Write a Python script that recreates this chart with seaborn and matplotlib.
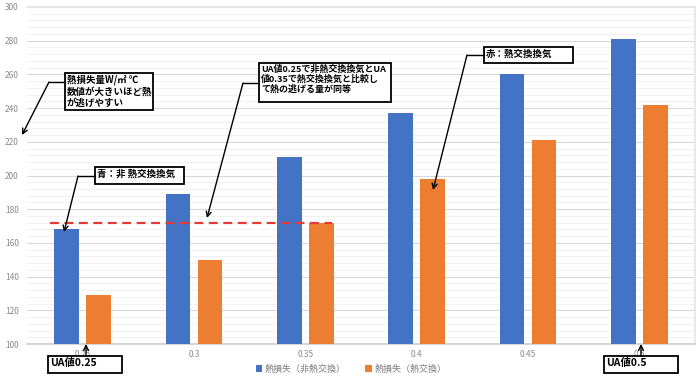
import seaborn as sns
import pandas as pd
import matplotlib.pyplot as plt
from matplotlib.ticker import MultipleLocator
from matplotlib.patches import Rectangle, FancyArrowPatch
from matplotlib.lines import Line2D

# data
ua_values = ["0.25", "0.3", "0.35", "0.4", "0.45", "0.5"]
loss_plain = [168, 189, 211, 237, 260, 281]   # 熱損失（非熱交換）
loss_hx = [129, 150, 172, 198, 221, 242]      # 熱損失（熱交換）
series_names = ["熱損失（非熱交換）", "熱損失（熱交換）"]

sns.set_theme(style="white")
plt.rcParams['font.family'] = ['Noto Sans CJK JP', 'DejaVu Sans']

df = pd.DataFrame({
    "UA": ua_values * 2,
    "loss": loss_plain + loss_hx,
    "series": [series_names[0]] * len(ua_values) + [series_names[1]] * len(ua_values),
})

W, H = 700, 377
fig = plt.figure(figsize=(7, 3.77), dpi=100)
ax = fig.add_axes([27 / W, 1 - 344 / H, 668 / W, 337 / H])

sns.barplot(data=df, x="UA", y="loss", hue="series", order=ua_values,
            hue_order=series_names, palette=["#4472C4", "#ED7D31"],
            width=0.575, gap=0.22, saturation=1, linewidth=0, ax=ax, zorder=3)

ax.set_ylim(100, 300)
ax.set_xlim(-0.5, len(ua_values) - 0.5)
ax.yaxis.set_major_locator(MultipleLocator(20))
ax.yaxis.set_minor_locator(MultipleLocator(4))
ax.grid(which='major', axis='y', color='#d9d9d9', lw=0.8)
ax.grid(which='minor', axis='y', color='#efefef', lw=0.6)
ax.set_axisbelow(True)
ax.set_xlabel('')
ax.set_ylabel('')
ax.tick_params(axis='both', which='both', length=0, labelsize=6, labelcolor='#8a8a8a')
ax.tick_params(axis='y', pad=6)
ax.tick_params(axis='x', pad=4)
ax.spines['left'].set_visible(False)
ax.spines['bottom'].set_color('#cfcfcf')
ax.spines['top'].set_color('#e6e6e6')
ax.spines['right'].set_color('#e6e6e6')

# reference line at the 0.35 heat-exchange level
ax.hlines(loss_hx[2], -0.29, 2.24, colors='#E53935', linestyles=(0, (4, 2.5)),
          lw=1.6, zorder=4)

handles, labels = ax.get_legend_handles_labels()
ax.get_legend().remove()
leg = fig.legend(handles, labels, loc='center', bbox_to_anchor=(351 / W, 1 - 369 / H),
                 ncol=2, frameon=False, fontsize=6.5, handlelength=0.7,
                 handleheight=0.7, handletextpad=0.3, columnspacing=2.2)
for t in leg.get_texts():
    t.set_color('#7f7f7f')


def fp(x, y):
    return (x / W, 1 - y / H)


def callout(text, x0, y0, x1, y1, path, size=6.8):
    fig.add_artist(Rectangle(fp(x0, y1), (x1 - x0) / W, (y1 - y0) / H,
                             transform=fig.transFigure, fc='white', ec='black',
                             lw=1.3, zorder=5))
    fig.text(*fp(x0 + 2, y0 + 1.5), text, ha='left', va='top', fontsize=size,
             weight='bold', color='black', linespacing=1.15, zorder=6)
    if len(path) > 2:
        xs = [p[0] / W for p in path[:-1]]
        ys = [1 - p[1] / H for p in path[:-1]]
        fig.add_artist(Line2D(xs, ys, transform=fig.transFigure, color='black',
                              lw=1.0, zorder=5))
    fig.add_artist(FancyArrowPatch(fp(*path[-2]), fp(*path[-1]),
                                   transform=fig.transFigure, arrowstyle='->',
                                   mutation_scale=9, lw=1.0, color='black',
                                   shrinkA=0, shrinkB=0, zorder=5))


callout("熱損失量W/㎡ ℃\n数値が大きいほど熱\nが逃げやすい", 65, 73, 153, 110,
        [(65, 82), (49, 82), (22, 135)])
callout("青：非 熱交換換気", 95, 167, 184, 184,
        [(95, 176), (78, 176), (64, 232)])
callout("UA値0.25で非熱交換換気とUA\n値0.35で熱交換換気と比較し\nて熱の逃げる量が同等",
        259, 63, 391, 102, [(259, 83), (243, 83), (207, 218)], size=6.5)
callout("赤：熱交換換気", 484, 47, 573, 63,
        [(484, 55), (467, 55), (433, 190)])
callout("UA値0.25", 48, 356, 122, 373, [(86, 356), (86, 344)], size=7.5)
callout("UA値0.5", 604, 356, 678, 373, [(641, 356), (641, 344)], size=7.5)

fig.savefig('out.png', dpi=100)
